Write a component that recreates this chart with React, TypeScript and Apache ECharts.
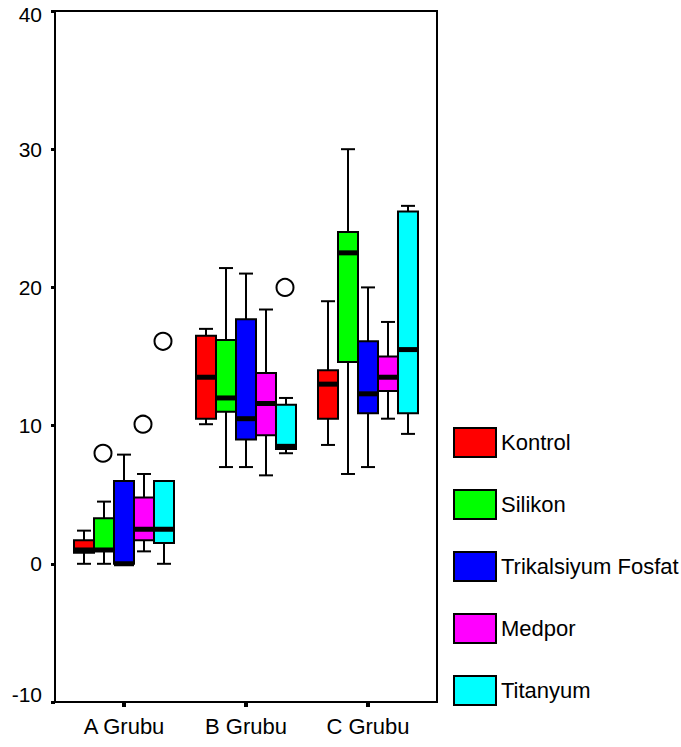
import React, { useEffect, useRef } from "react";
import * as echarts from "echarts";

const groups = ["A Grubu", "B Grubu", "C Grubu"];
const materials = ["Kontrol", "Silikon", "Trikalsiyum Fosfat", "Medpor", "Titanyum"];
const colors = ["#FF0000", "#00FF00", "#0000FF", "#FF00FF", "#00FFFF"];

// [min, q1, median, q3, max] per group (A, B, C)
const kontrol = [
  [0, 0.8, 1.0, 1.7, 2.4],
  [10.1, 10.5, 13.5, 16.5, 17.0],
  [8.6, 10.5, 13.0, 14.0, 19.0],
];
const silikon = [
  [0, 1.0, 1.0, 3.3, 4.5],
  [7.0, 11.0, 12.0, 16.2, 21.4],
  [6.5, 14.6, 22.5, 24.0, 30.0],
];
const trikalsiyum = [
  [0, 0, 0, 6.0, 7.9],
  [7.0, 9.0, 10.5, 17.7, 21.0],
  [7.0, 10.9, 12.3, 16.1, 20.0],
];
const medpor = [
  [0.9, 1.7, 2.5, 4.8, 6.5],
  [6.4, 9.3, 11.6, 13.8, 18.4],
  [10.5, 12.5, 13.5, 15.0, 17.5],
];
const titanyum = [
  [0, 1.5, 2.5, 6.0, 6.0],
  [8.0, 8.3, 8.5, 11.5, 12.0],
  [9.4, 10.9, 15.5, 25.5, 25.9],
];
// outliers: [groupIndex, materialIndex, value]
const outliers = [
  [0, 1, 8.0],
  [0, 3, 10.1],
  [0, 4, 16.1],
  [1, 4, 20.0],
];

const yTicks = [-10, 0, 10, 20, 30, 40];

const seriesValues = [kontrol, silikon, trikalsiyum, medpor, titanyum];
const BOX_W = 20 / 122;
const FONT = "'Liberation Sans', Arial, sans-serif";

export default function App() {
  const ref = useRef<HTMLDivElement>(null);
  useEffect(() => {
    const chart = echarts.init(ref.current!, null, { renderer: "svg" });

    const boxSeries = materials.map((name, si) => ({
      name,
      type: "custom",
      itemStyle: { color: colors[si], borderColor: "#000", borderWidth: 1.5 },
      data: seriesValues[si].map((v, gi) => [gi, ...v]),
      renderItem: (params: any, api: any) => {
        const x = api.value(0) + (si - 2) * BOX_W;
        const vMin = api.value(1), q1 = api.value(2), med = api.value(3), q3 = api.value(4), vMax = api.value(5);
        const w = api.size([BOX_W, 0])[0];
        const cx = api.coord([x, 0])[0];
        const y = (v: number) => api.coord([x, v])[1];
        const cap = w * 0.7;
        const children: any[] = [];
        const lineStyle = { stroke: "#000", lineWidth: 2 };
        if (vMax > q3) {
          children.push({ type: "line", shape: { x1: cx, y1: y(vMax), x2: cx, y2: y(q3) }, style: lineStyle });
          children.push({ type: "line", shape: { x1: cx - cap / 2, y1: y(vMax), x2: cx + cap / 2, y2: y(vMax) }, style: lineStyle });
        }
        if (vMin < q1) {
          children.push({ type: "line", shape: { x1: cx, y1: y(q1), x2: cx, y2: y(vMin) }, style: lineStyle });
          children.push({ type: "line", shape: { x1: cx - cap / 2, y1: y(vMin), x2: cx + cap / 2, y2: y(vMin) }, style: lineStyle });
        }
        children.push({
          type: "rect",
          shape: { x: cx - w / 2, y: y(q3), width: w, height: Math.max(y(q1) - y(q3), 1) },
          style: { fill: colors[si], stroke: "#000", lineWidth: 2 },
        });
        children.push({
          type: "rect",
          shape: { x: cx - w / 2, y: y(med) - 2.5, width: w, height: 5 },
          style: { fill: "#000" },
        });
        return { type: "group", children };
      },
    }));

    const outlierSeries = {
      name: "outliers",
      type: "custom",
      z: 5,
      data: outliers,
      renderItem: (params: any, api: any) => {
        const x = api.value(0) + (api.value(1) - 2) * BOX_W;
        const p = api.coord([x, api.value(2)]);
        return {
          type: "circle",
          shape: { cx: p[0] - 1, cy: p[1], r: 8.5 },
          style: { fill: "#fff", stroke: "#000", lineWidth: 2 },
        };
      },
    };

    chart.setOption({
      animation: false,
      backgroundColor: "#fff",
      grid: { left: 55, right: 244, top: 11, bottom: 45, show: true, borderColor: "#000", borderWidth: 2, backgroundColor: "transparent" },
      legend: {
        data: materials,
        orient: "vertical",
        left: 453,
        top: 427,
        padding: 0,
        itemWidth: 42,
        itemHeight: 29,
        itemGap: 31,
        icon: "rect",
        selectedMode: false,
        itemStyle: { borderColor: "#000", borderWidth: 2 },
        textStyle: { fontSize: 22, color: "#000", fontFamily: FONT },
      },
      xAxis: {
        type: "value",
        min: -0.5656,
        max: 2.5656,
        splitLine: { show: false },
        axisLine: { show: true, onZero: false, lineStyle: { color: "#000", width: 2 } },
        axisTick: { show: true, customValues: [0, 1, 2], length: 5, lineStyle: { color: "#000", width: 4 } },
        axisLabel: {
          customValues: [0, 1, 2],
          formatter: (v: number) => groups[Math.round(v)] ?? "",
          fontSize: 22,
          color: "#000",
          fontFamily: FONT,
          margin: 13,
        },
      },
      yAxis: {
        type: "value",
        min: -10,
        max: 40,
        interval: 10,
        splitLine: { show: false },
        axisLine: { show: true, onZero: false, lineStyle: { color: "#000", width: 2 } },
        axisTick: { show: true, length: 4, lineStyle: { color: "#000", width: 3 } },
        axisLabel: {
          fontSize: 21,
          color: "#000",
          fontFamily: FONT,
          margin: 13,
          customValues: yTicks,
          formatter: (v: number) => (v === -10 ? "{lo|-10}" : v === 40 ? "{hi|40}" : String(v)),
          rich: {
            lo: { fontSize: 21, color: "#000", fontFamily: FONT, padding: [0, 0, 16, 0] },
            hi: { fontSize: 21, color: "#000", fontFamily: FONT, padding: [7, 0, 0, 0] },
          },
        },
      },
      series: [...boxSeries, outlierSeries],
    });
    return () => chart.dispose();
  }, []);
  return <div ref={ref} style={{ position: "fixed", left: 0, top: 0, width: 681, height: 747 }} />;
}
